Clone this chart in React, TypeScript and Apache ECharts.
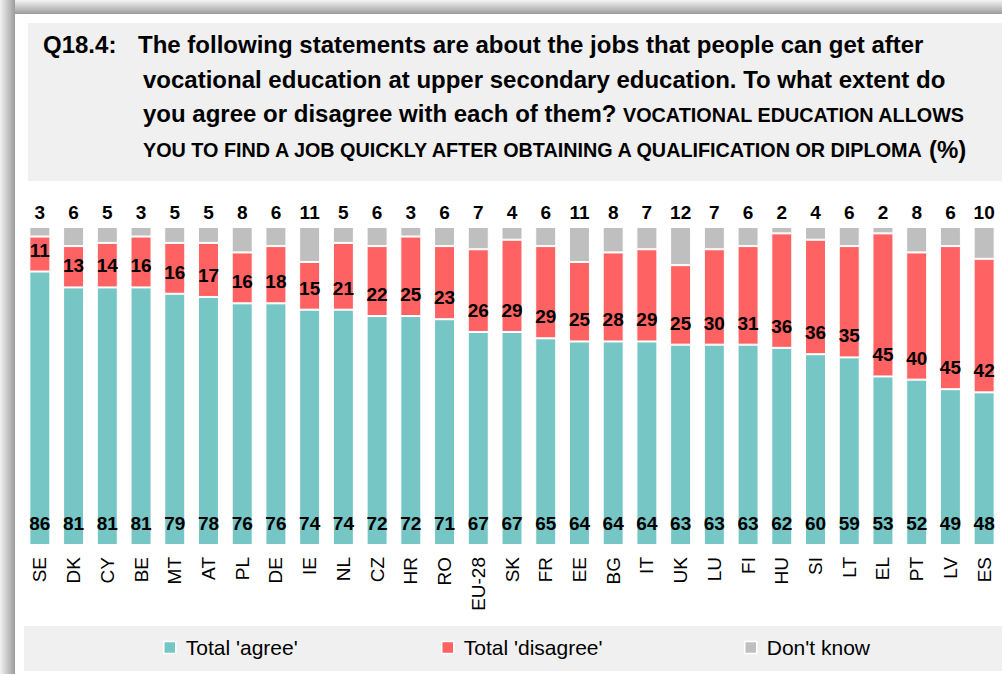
import React, { useEffect, useRef } from "react";
import * as echarts from "echarts";

const countries = ["SE","DK","CY","BE","MT","AT","PL","DE","IE","NL","CZ","HR","RO","EU-28","SK","FR","EE","BG","IT","UK","LU","FI","HU","SI","LT","EL","PT","LV","ES"];
const agree = [86,81,81,81,79,78,76,76,74,74,72,72,71,67,67,65,64,64,64,63,63,63,62,60,59,53,52,49,48];
const disagree = [11,13,14,16,16,17,16,18,15,21,22,25,23,26,29,29,25,28,29,25,30,31,36,36,35,45,40,45,42];
const dontKnow = [3,6,5,3,5,5,8,6,11,5,6,3,6,7,4,6,11,8,7,12,7,6,2,4,6,2,8,6,10];

const seriesNames = ["Total 'agree'", "Total 'disagree'", "Don't know"];
const colors = ["#77C6C6", "#FF6262", "#BFBFBF"];

const FONT = "'Liberation Sans', Arial, Helvetica, sans-serif";

export default function App() {
  const ref = useRef<HTMLDivElement>(null);
  useEffect(() => {
    if (!ref.current) return;
    const chart = echarts.init(ref.current, undefined, { renderer: "svg" });
    const labelStyle = { color: "#000", fontWeight: "bold" as const, fontSize: 19, fontFamily: FONT };
    const titleBig = { fill: "#000", fontWeight: "bold", fontSize: 24, fontFamily: FONT, verticalAlign: "middle" };
    const titleSmall = { fill: "#000", fontWeight: "bold", fontSize: 19.8, fontFamily: FONT, verticalAlign: "middle" };
    const legendBase = {
      top: 632,
      itemWidth: 12,
      itemHeight: 12,
      icon: "rect",
      itemStyle: { borderColor: "#fff", borderWidth: 1.5 },
      textStyle: { fontSize: 21, color: "#000", fontFamily: FONT, padding: [0, 0, 0, 5] },
    };
    chart.setOption({
      animation: false,
      backgroundColor: "#fff",
      color: colors,
      graphic: [
        {
          type: "rect", shape: { x: 0, y: 0, width: 1002, height: 14 }, silent: true,
          style: { fill: new echarts.graphic.LinearGradient(0, 0, 0, 1, [{ offset: 0, color: "#f4f4f4" }, { offset: 1, color: "#9c9c9c" }]) },
        },
        {
          type: "rect", shape: { x: 0, y: 0, width: 15, height: 674 }, silent: true,
          style: { fill: new echarts.graphic.LinearGradient(0, 0, 1, 0, [{ offset: 0, color: "#f2f2f2" }, { offset: 1, color: "#9c9c9c" }]) },
        },
        { type: "rect", shape: { x: 28, y: 23, width: 974, height: 158 }, silent: true, style: { fill: "#f0f0f0" } },
        { type: "rect", shape: { x: 24, y: 626, width: 978, height: 45 }, silent: true, style: { fill: "#f0f0f0" } },
        { type: "text", x: 43, y: 44, style: { ...titleBig, text: "Q18.4:" } },
        { type: "text", x: 138, y: 44, style: { ...titleBig, text: "The following statements are about the jobs that people can get after" } },
        { type: "text", x: 143, y: 79, style: { ...titleBig, text: "vocational education at upper secondary education. To what extent do" } },
        { type: "text", x: 143, y: 113, style: { ...titleBig, text: "you agree or disagree with each of them?" } },
        { type: "text", x: 623, y: 115, style: { ...titleSmall, text: "VOCATIONAL EDUCATION ALLOWS" } },
        { type: "text", x: 143, y: 150, style: { ...titleSmall, text: "YOU TO FIND A JOB QUICKLY AFTER OBTAINING A QUALIFICATION OR DIPLOMA" } },
        { type: "text", x: 929, y: 149, style: { ...titleBig, text: "(%)" } },
      ],
      legend: [
        { ...legendBase, left: 158, data: [seriesNames[0]] },
        { ...legendBase, left: 436, data: [seriesNames[1]] },
        { ...legendBase, left: 739, data: [seriesNames[2]] },
      ],
      grid: { left: 23, right: 1, top: 227, bottom: 129, containLabel: false },
      xAxis: {
        type: "category",
        data: countries,
        axisLine: { show: false },
        axisTick: { show: false },
        axisLabel: { rotate: 90, interval: 0, fontSize: 19, color: "#000", fontFamily: FONT, margin: 12 },
      },
      yAxis: { type: "value", min: 0, max: 100, show: false, splitLine: { show: false } },
      series: [
        {
          name: seriesNames[0], type: "bar", stack: "t", data: agree, barWidth: 21,
          itemStyle: { color: colors[0], borderColor: "#fff", borderWidth: 1 },
          label: { show: true, position: "insideBottom", distance: 12, ...labelStyle },
        },
        {
          name: seriesNames[1], type: "bar", stack: "t", data: disagree, barWidth: 21,
          itemStyle: { color: colors[1], borderColor: "#fff", borderWidth: 1 },
          label: { show: true, position: "insideBottom", distance: 12, ...labelStyle },
        },
        {
          name: seriesNames[2], type: "bar", stack: "t", data: dontKnow, barWidth: 21,
          itemStyle: { color: colors[2], borderColor: "#fff", borderWidth: 1 },
          label: { show: true, position: "top", distance: 5, ...labelStyle },
        },
      ],
    });
    return () => chart.dispose();
  }, []);
  return <div ref={ref} style={{ position: "fixed", left: 0, top: 0, width: 1002, height: 674 }} />;
}
